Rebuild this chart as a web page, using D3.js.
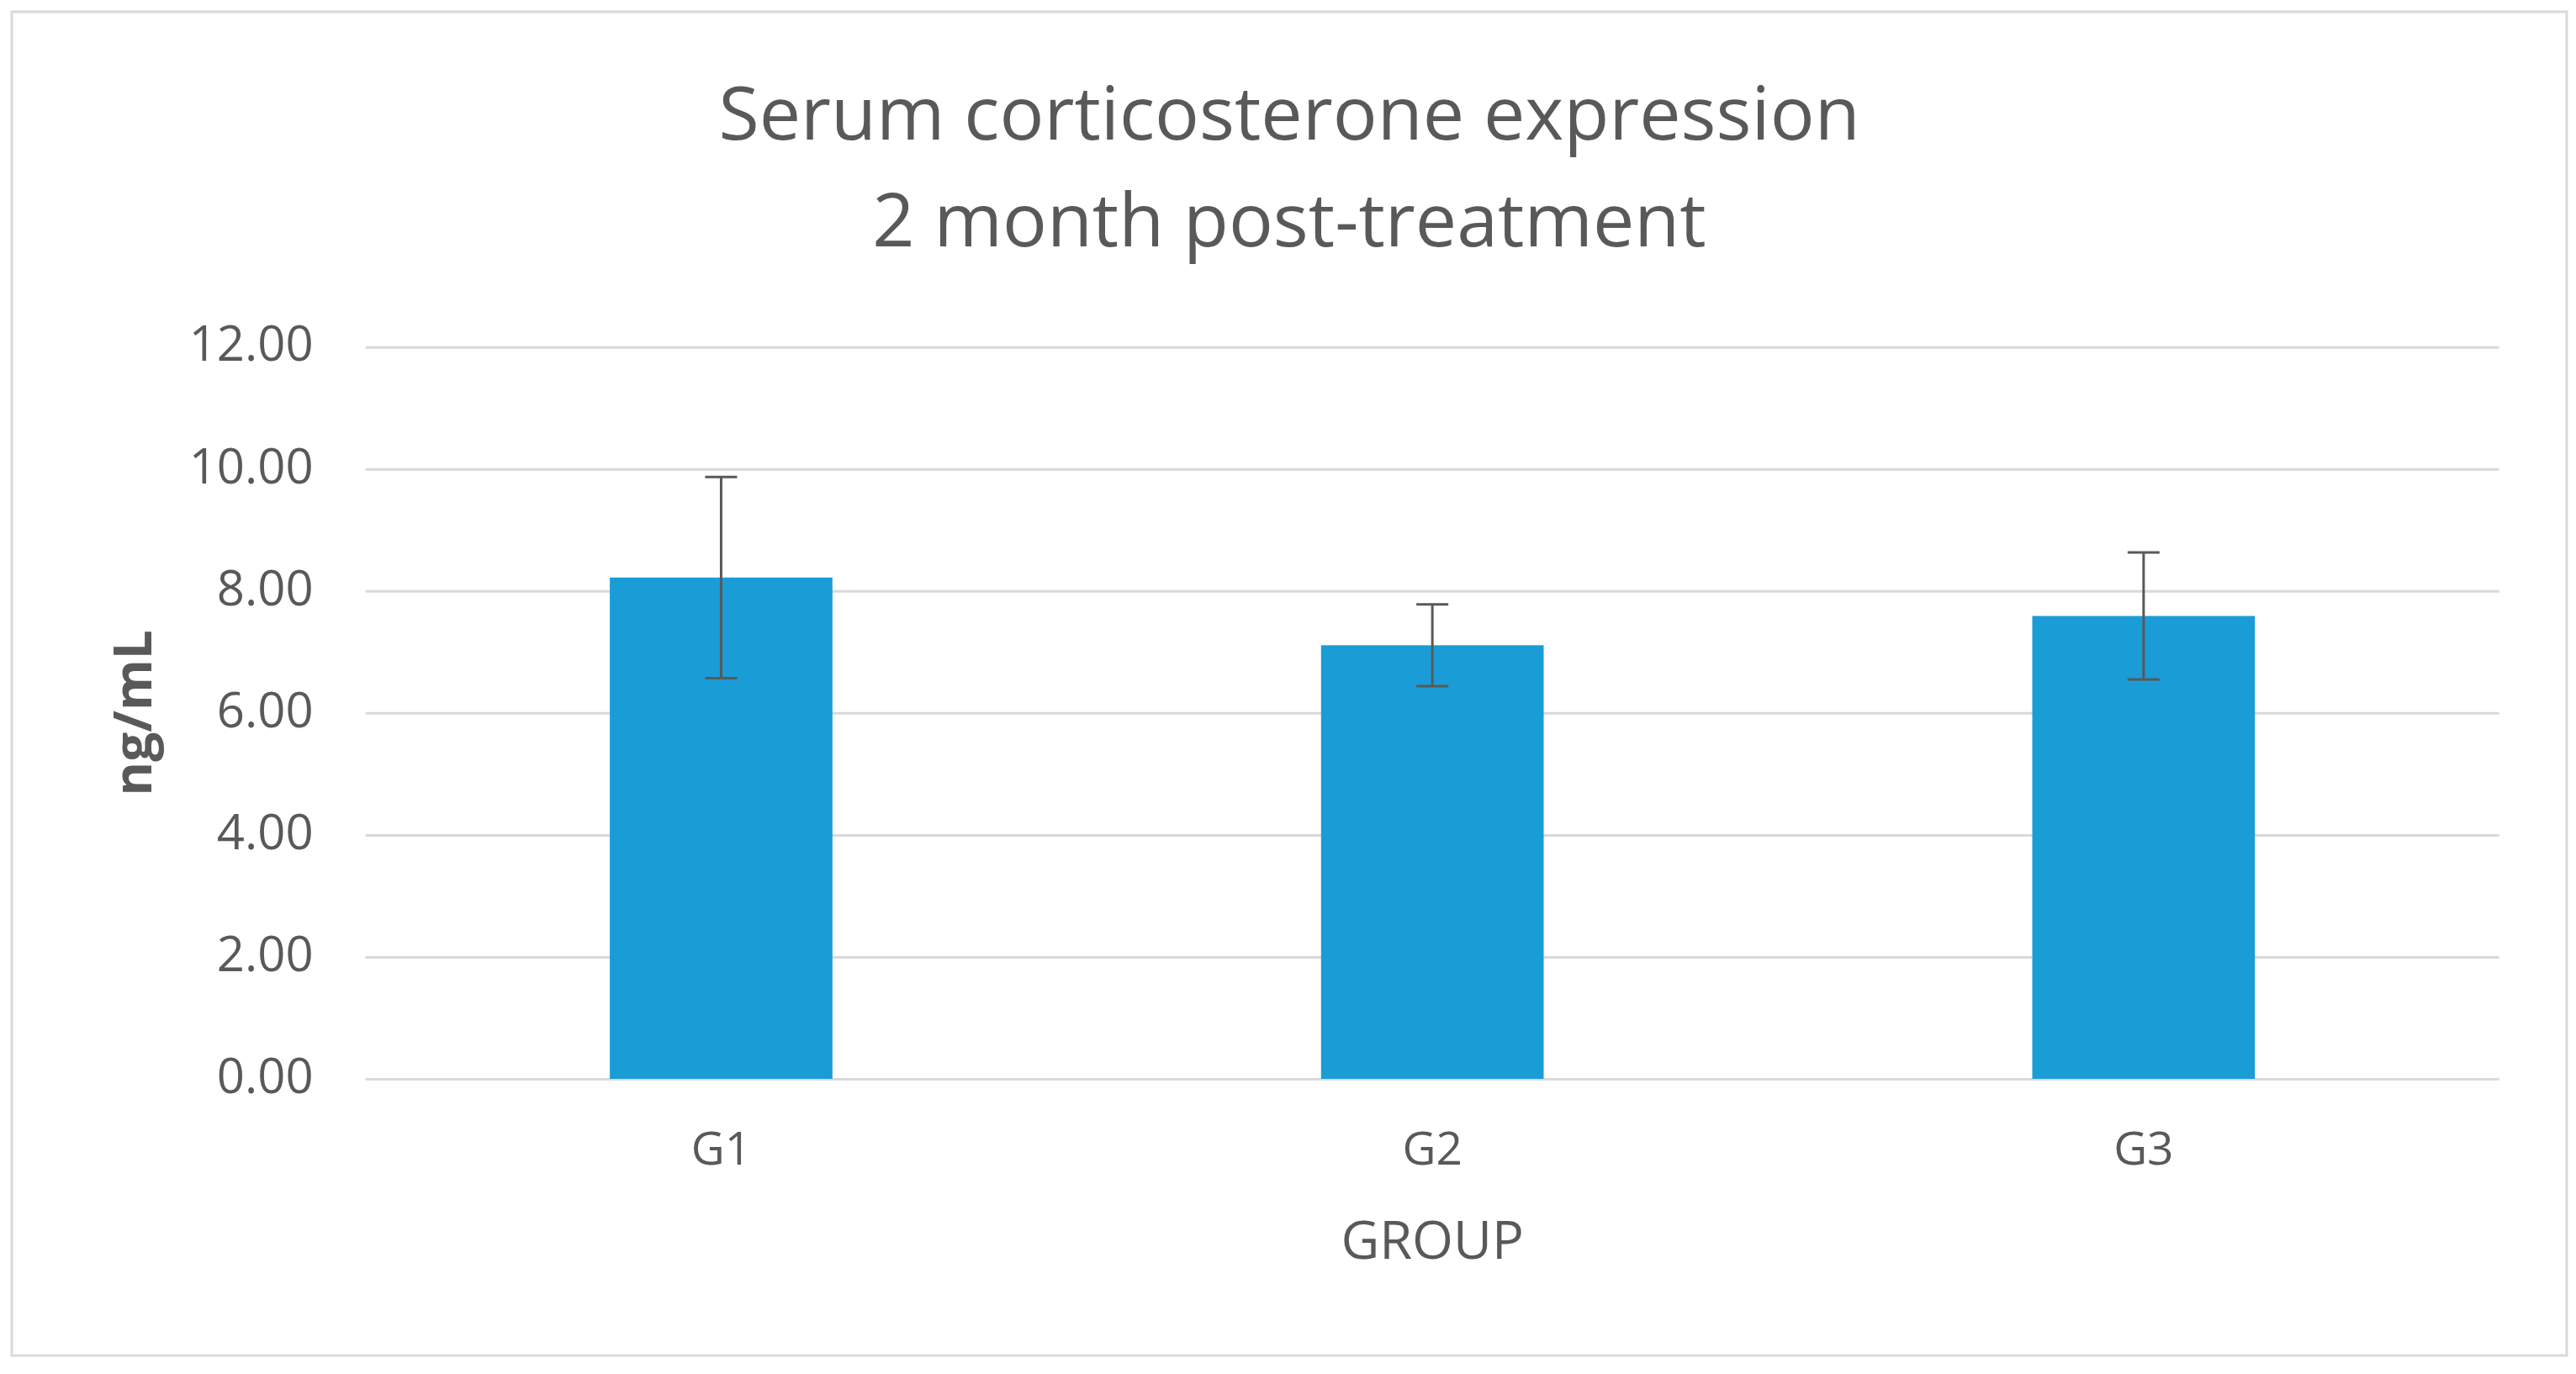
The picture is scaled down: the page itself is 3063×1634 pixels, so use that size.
<!DOCTYPE html>
<html>
<head>
<meta charset="utf-8">
<script src="https://cdn.jsdelivr.net/npm/d3@7"></script>
<style>
	body { margin: 0; background: #fff; }
	text { font-family: 'Open Sans', 'Noto Sans', sans-serif; fill: #595959; }
</style>
</head>
<body>
<div id="chart"></div>
<script>
// data
var groups      =   ['G1', 'G2', 'G3'];
var means       =   [8.22, 7.11, 7.59];
var errors      =   [1.65, 0.67, 1.04];
var y_ticks     =   [0, 2, 4, 6, 8, 10, 12];
var title_lines =   ['Serum corticosterone expression', '2 month post-treatment'];


// svg + frame
var chart_width     =   3063;
var chart_height    =   1634;
var plot            =   { left: 434.6, right: 2971.7, top: 412.7, bottom: 1283 };
var svg             =   d3.select( '#chart' )
	.append( 'svg' )
	.attr( 'width', chart_width )
	.attr( 'height', chart_height );

svg.append( 'rect' )
	.attr( 'x', 14 )
	.attr( 'y', 14 )
	.attr( 'width', 3038 )
	.attr( 'height', 1598 )
	.attr( 'fill', '#fff' )
	.attr( 'stroke', '#d9d9d9' )
	.attr( 'stroke-width', 3 );


// scales
var x_scale = d3.scaleBand()
	.domain( groups )
	.range([plot.left, plot.right])
	.paddingInner(0.687)
	.paddingOuter(0.3435);

var y_scale = d3.scaleLinear()
	.domain([0, d3.max(y_ticks)])
	.range([plot.bottom, plot.top]);


// gridlines + y tick labels
var y_axis = svg.append( 'g' )
	.attr( 'transform', 'translate(' + plot.left + ',0)' )
	.call( d3.axisLeft(y_scale)
		.tickValues(y_ticks)
		.tickFormat(d3.format('.2f'))
		.tickSize(-(plot.right - plot.left))
		.tickPadding(62) );

y_axis.select( '.domain' ).remove();
y_axis.selectAll( '.tick line' )
	.attr( 'stroke', '#d9d9d9' )
	.attr( 'stroke-width', 3 );
y_axis.selectAll( '.tick text' )
	.attr( 'font-size', 58 )
	.attr( 'dy', '0.28em' )
	.style( 'font-family', null )
	.attr( 'font-family', null );


// x category labels
var x_axis = svg.append( 'g' )
	.attr( 'transform', 'translate(0,' + plot.bottom + ')' )
	.call( d3.axisBottom(x_scale).tickSize(0).tickPadding(0) );

x_axis.select( '.domain' ).remove();
x_axis.selectAll( '.tick text' )
	.attr( 'y', 102 )
	.attr( 'dy', 0 )
	.attr( 'font-size', 55 )
	.attr( 'font-family', null );


// bars
svg.selectAll( 'rect.bar' )
	.data( means )
	.enter()
	.append( 'rect' )
	.attr( 'class', 'bar' )
	.attr( 'x', function( d, i ){
		return x_scale(groups[i]);
	})
	.attr( 'y', function( d ){
		return y_scale(d);
	})
	.attr( 'width', x_scale.bandwidth() )
	.attr( 'height', function( d ){
		return plot.bottom - y_scale(d);
	})
	.attr( 'fill', '#1a9cd7' );


// error bars
var cap = 19;
var err = svg.selectAll( 'g.err' )
	.data( means )
	.enter()
	.append( 'g' )
	.attr( 'class', 'err' )
	.attr( 'stroke', '#595959' )
	.attr( 'stroke-width', 3 );

function cx( i ){
	return x_scale(groups[i]) + x_scale.bandwidth() / 2;
}

err.append( 'line' )
	.attr( 'x1', function( d, i ){ return cx(i); } )
	.attr( 'x2', function( d, i ){ return cx(i); } )
	.attr( 'y1', function( d, i ){ return y_scale(d + errors[i]); } )
	.attr( 'y2', function( d, i ){ return y_scale(d - errors[i]); } );

err.append( 'line' )
	.attr( 'x1', function( d, i ){ return cx(i) - cap; } )
	.attr( 'x2', function( d, i ){ return cx(i) + cap; } )
	.attr( 'y1', function( d, i ){ return y_scale(d + errors[i]); } )
	.attr( 'y2', function( d, i ){ return y_scale(d + errors[i]); } );

err.append( 'line' )
	.attr( 'x1', function( d, i ){ return cx(i) - cap; } )
	.attr( 'x2', function( d, i ){ return cx(i) + cap; } )
	.attr( 'y1', function( d, i ){ return y_scale(d - errors[i]); } )
	.attr( 'y2', function( d, i ){ return y_scale(d - errors[i]); } );


// titles
svg.selectAll( 'text.title' )
	.data( title_lines )
	.enter()
	.append( 'text' )
	.attr( 'class', 'title' )
	.text(function( d ){
		return d;
	})
	.attr( 'x', 1533 )
	.attr( 'y', function( d, i ){
		return 166 + i * 127;
	})
	.attr( 'font-size', 88 )
	.attr( 'text-anchor', 'middle' );

svg.append( 'text' )
	.text( 'GROUP' )
	.attr( 'x', (plot.left + plot.right) / 2 )
	.attr( 'y', 1497 )
	.attr( 'font-size', 63 )
	.attr( 'text-anchor', 'middle' );

svg.append( 'text' )
	.text( 'ng/mL' )
	.attr( 'transform', 'translate(180,' + (plot.top + plot.bottom) / 2 + ') rotate(-90)' )
	.attr( 'font-size', 62 )
	.attr( 'font-weight', 'bold' )
	.attr( 'text-anchor', 'middle' );
</script>
</body>
</html>
